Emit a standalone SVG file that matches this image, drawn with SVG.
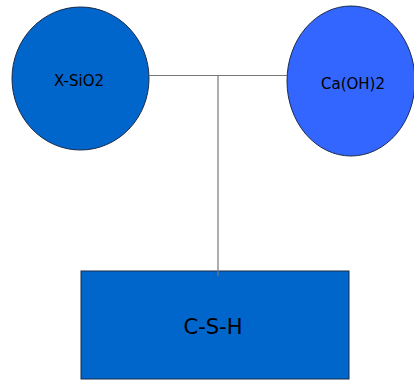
<svg xmlns="http://www.w3.org/2000/svg" width="414" height="381" viewBox="0 0 414 381">
<style>
.node{stroke:#1a2a4a;stroke-width:1}
.lbl{font-family:"DejaVu Sans",Verdana,sans-serif;fill:#000;text-anchor:middle}
.conn{stroke:#777;stroke-width:1.2;fill:none}
</style>
<rect width="414" height="381" fill="#fff"/>
<g id="xsio2">
<ellipse class="node" cx="80.5" cy="78.5" rx="68.5" ry="71.5" fill="#0066CC"/>
<text class="lbl" x="79" y="86" font-size="15">X-SiO2</text>
</g>
<g id="caoh2">
<ellipse class="node" cx="351" cy="81" rx="64" ry="75" fill="#3366FF"/>
<text class="lbl" x="353" y="89" font-size="15">Ca(OH)2</text>
</g>
<g id="csh">
<rect class="node" x="81" y="271" width="268" height="108" fill="#0066CC"/>
<text class="lbl" x="213" y="334" font-size="21">C-S-H</text>
</g>
<g id="connectors">
<path class="conn" d="M149 75.5H287"/>
<path class="conn" d="M218 75.5V276"/>
</g>
</svg>
